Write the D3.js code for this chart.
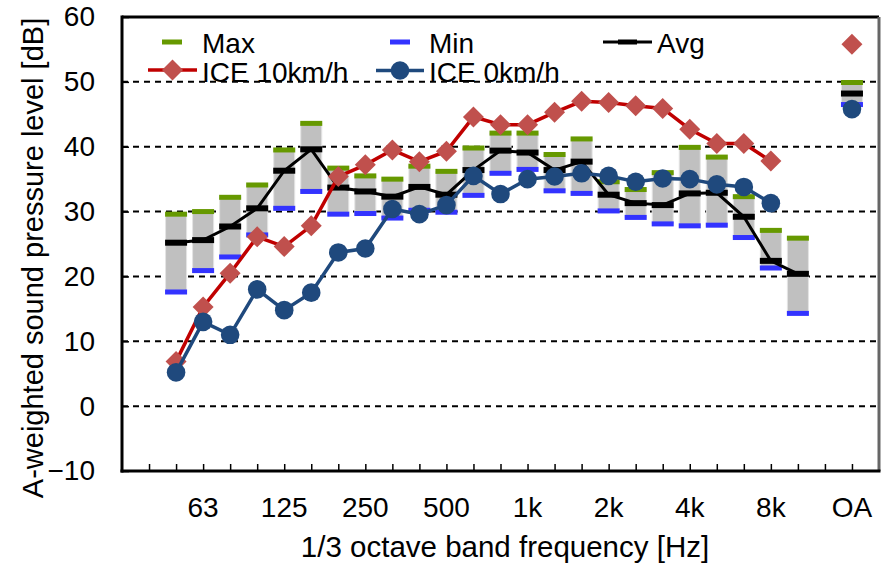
<!DOCTYPE html>
<html>
<head>
<meta charset="utf-8">
<script src="https://cdn.jsdelivr.net/npm/d3@7"></script>
<style>
  html, body { margin: 0; padding: 0; background: #fff; }
  svg { display: block; font-family: Arial, "Liberation Sans", sans-serif; }
</style>
</head>
<body>
<svg id="chart" width="891" height="567"></svg>
<script>
// 1/3-octave band slots on the category axis (null = empty slot)
const bands = [null, null, "50", "63", "80", "100", "125", "160", "200", "250", "315", "400",
  "500", "630", "800", "1k", "1.25k", "1.6k", "2k", "2.5k", "3.15k", "4k", "5k", "6.3k",
  "8k", "10k", null, "OA", null];
const labeledBands = ["63", "125", "250", "500", "1k", "2k", "4k", "8k", "OA"];

// Bands that carry data, in order (50 Hz .. 10 kHz, then overall)
const dataBands = ["50", "63", "80", "100", "125", "160", "200", "250", "315", "400", "500",
  "630", "800", "1k", "1.25k", "1.6k", "2k", "2.5k", "3.15k", "4k", "5k", "6.3k", "8k", "10k", "OA"];

const maxVals = [29.6, 30.0, 32.2, 34.1, 39.5, 43.6, 36.7, 35.5, 35.0, 37.0, 36.2, 39.8,
  42.1, 42.1, 38.8, 41.2, 34.6, 33.4, 36.0, 39.9, 38.4, 32.3, 27.1, 25.9, 49.9];
const minVals = [17.6, 20.9, 23.0, 26.4, 30.5, 33.1, 29.6, 29.7, 29.0, 30.2, 29.9, 32.5,
  35.9, 36.5, 33.2, 32.8, 30.1, 29.1, 28.1, 27.8, 27.9, 26.0, 21.3, 14.3, 46.5];
const avgVals = [25.2, 25.6, 27.7, 30.5, 36.3, 39.6, 33.7, 33.1, 32.3, 33.8, 32.6, 36.4,
  39.4, 39.1, 36.4, 37.7, 32.6, 31.3, 31.0, 32.8, 32.9, 29.2, 22.4, 20.4, 48.2];
const ice10Vals = [6.9, 15.3, 20.5, 26.1, 24.6, 27.8, 35.4, 37.2, 39.5, 37.7, 39.3, 44.6,
  43.4, 43.4, 45.3, 47.0, 46.8, 46.3, 45.9, 42.7, 40.5, 40.5, 37.8, null, 55.8];
const ice0Vals = [5.2, 13.0, 11.0, 18.0, 14.8, 17.5, 23.7, 24.3, 30.4, 29.6, 31.0, 35.5,
  32.7, 35.0, 35.4, 35.9, 35.5, 34.6, 35.1, 35.0, 34.2, 33.8, 31.3, null, 45.8];

const yTicks = [-10, 0, 10, 20, 30, 40, 50, 60];
const gridValues = [0, 10, 20, 30, 40, 50];

const colors = {
  bar: "#c0c0c0", max: "#669900", min: "#3333ff", avg: "#000000",
  ice10Line: "#c00000", ice10Mark: "#c0504d", ice0: "#1f497d"
};

const svg = d3.select("#chart");
const plot = { left: 122, right: 879, top: 17, bottom: 471 };

const x = d3.scalePoint().domain(d3.range(bands.length)).range([plot.left, plot.right]);
const y = d3.scaleLinear().domain([-10, 60]).range([plot.bottom, plot.top]);
const xb = b => x(bands.indexOf(b));

const rows = dataBands.map((b, i) => ({
  band: b, max: maxVals[i], min: minVals[i], avg: avgVals[i],
  ice10: ice10Vals[i], ice0: ice0Vals[i]
}));
const spectrum = rows.filter(r => r.band !== "OA");

// Gridlines
svg.append("g").selectAll("line").data(gridValues).join("line")
  .attr("x1", plot.left).attr("x2", plot.right)
  .attr("y1", d => y(d)).attr("y2", d => y(d))
  .attr("stroke", "#000").attr("stroke-width", 2).attr("stroke-dasharray", "6,5");

// Range bars (min to max)
const bw = 21;
svg.append("g").selectAll("rect").data(rows).join("rect")
  .attr("x", d => xb(d.band) - bw / 2).attr("width", bw)
  .attr("y", d => y(d.max)).attr("height", d => y(d.min) - y(d.max))
  .attr("fill", colors.bar).attr("stroke", "#e4e4e4").attr("stroke-width", 1);

function caps(key, color, h) {
  svg.append("g").selectAll("rect").data(rows).join("rect")
    .attr("x", d => xb(d.band) - bw / 2 - 0.5).attr("width", bw + 1)
    .attr("y", d => y(d[key]) - h / 2).attr("height", h)
    .attr("fill", color);
}
caps("max", colors.max, 5);
caps("min", colors.min, 5);

// Average line and markers
svg.append("path").datum(spectrum)
  .attr("d", d3.line().x(d => xb(d.band)).y(d => y(d.avg)))
  .attr("fill", "none").attr("stroke", colors.avg).attr("stroke-width", 3);
caps("avg", colors.avg, 6);

// Diamond marker path
const diamond = s => `M0,${-s}L${s},0L0,${s}L${-s},0Z`;

// ICE 10 km/h
svg.append("path").datum(spectrum.filter(d => d.ice10 != null))
  .attr("d", d3.line().x(d => xb(d.band)).y(d => y(d.ice10)))
  .attr("fill", "none").attr("stroke", colors.ice10Line).attr("stroke-width", 3.5);
svg.append("g").selectAll("path").data(rows.filter(d => d.ice10 != null)).join("path")
  .attr("transform", d => `translate(${xb(d.band)},${y(d.ice10)})`)
  .attr("d", diamond(10.5)).attr("fill", colors.ice10Mark);

// ICE 0 km/h
svg.append("path").datum(spectrum.filter(d => d.ice0 != null))
  .attr("d", d3.line().x(d => xb(d.band)).y(d => y(d.ice0)))
  .attr("fill", "none").attr("stroke", colors.ice0).attr("stroke-width", 3.5);
svg.append("g").selectAll("circle").data(rows.filter(d => d.ice0 != null)).join("circle")
  .attr("cx", d => xb(d.band)).attr("cy", d => y(d.ice0)).attr("r", 9.3)
  .attr("fill", colors.ice0);

// Frame
svg.append("line").attr("x1", plot.left).attr("x2", plot.right)
  .attr("y1", plot.top).attr("y2", plot.top).attr("stroke", "#000").attr("stroke-width", 3);
svg.append("line").attr("x1", plot.right).attr("x2", plot.right)
  .attr("y1", plot.top).attr("y2", plot.bottom).attr("stroke", "#666").attr("stroke-width", 3);

// X axis: ticks inward on every slot, labels on octave bands
const xAxis = d3.axisBottom(x)
  .tickValues(d3.range(1, bands.length - 1))
  .tickSize(-7).tickSizeOuter(0).tickFormat("");
const gx = svg.append("g").attr("transform", `translate(0,${plot.bottom})`).call(xAxis);
gx.select(".domain").attr("stroke", "#000").attr("stroke-width", 3)
  .attr("d", `M${plot.left - 1.5},0H${plot.right + 1.5}`);
gx.selectAll(".tick line").attr("stroke", "#000").attr("stroke-width", 1.5);

svg.append("g").selectAll("text").data(labeledBands).join("text")
  .attr("x", d => xb(d)).attr("y", 517)
  .attr("text-anchor", "middle").attr("font-size", 28).attr("fill", "#000")
  .text(d => d);

// Y axis
const yAxis = d3.axisLeft(y).tickValues(yTicks).tickSize(-7).tickSizeOuter(0).tickPadding(27);
const gy = svg.append("g").attr("transform", `translate(${plot.left},0)`).call(yAxis);
gy.select(".domain").attr("stroke", "#000").attr("stroke-width", 3)
  .attr("d", `M0,${plot.top - 1.5}V${plot.bottom + 1.5}`);
gy.selectAll(".tick line").attr("stroke", "#000").attr("stroke-width", 1.5);
gy.selectAll(".tick text").attr("font-size", 28).attr("font-family", "Arial, 'Liberation Sans', sans-serif")
  .attr("fill", "#000");

// Axis titles
svg.append("text").attr("x", 505).attr("y", 557).attr("text-anchor", "middle")
  .attr("font-size", 29.5).text("1/3 octave band frequency [Hz]");
svg.append("text").attr("transform", "translate(43,258) rotate(-90)")
  .attr("text-anchor", "middle").attr("font-size", 29)
  .text("A-weighted sound  pressure level [dB]");

// Legend
const lg = svg.append("g").attr("font-size", 28);
lg.append("rect").attr("x", 162).attr("y", 39.5).attr("width", 20).attr("height", 5).attr("fill", colors.max);
lg.append("text").attr("x", 202).attr("y", 52.5).text("Max");
lg.append("rect").attr("x", 390).attr("y", 39.5).attr("width", 20).attr("height", 5).attr("fill", colors.min);
lg.append("text").attr("x", 429).attr("y", 52.5).text("Min");
lg.append("line").attr("x1", 603).attr("x2", 652).attr("y1", 42).attr("y2", 42)
  .attr("stroke", colors.avg).attr("stroke-width", 3);
lg.append("rect").attr("x", 618).attr("y", 39.5).attr("width", 19).attr("height", 5).attr("fill", colors.avg);
lg.append("text").attr("x", 657).attr("y", 52.5).text("Avg");

lg.append("line").attr("x1", 148).attr("x2", 197).attr("y1", 70).attr("y2", 70)
  .attr("stroke", colors.ice10Line).attr("stroke-width", 3.5);
lg.append("path").attr("transform", "translate(172.5,70)").attr("d", diamond(10.5)).attr("fill", colors.ice10Mark);
lg.append("text").attr("x", 202).attr("y", 81.5).text("ICE 10km/h");
lg.append("line").attr("x1", 376).attr("x2", 424).attr("y1", 70.5).attr("y2", 70.5)
  .attr("stroke", colors.ice0).attr("stroke-width", 3.5);
lg.append("circle").attr("cx", 400).attr("cy", 70.5).attr("r", 9.3).attr("fill", colors.ice0);
lg.append("text").attr("x", 429).attr("y", 81.5).text("ICE 0km/h");
</script>
</body>
</html>
